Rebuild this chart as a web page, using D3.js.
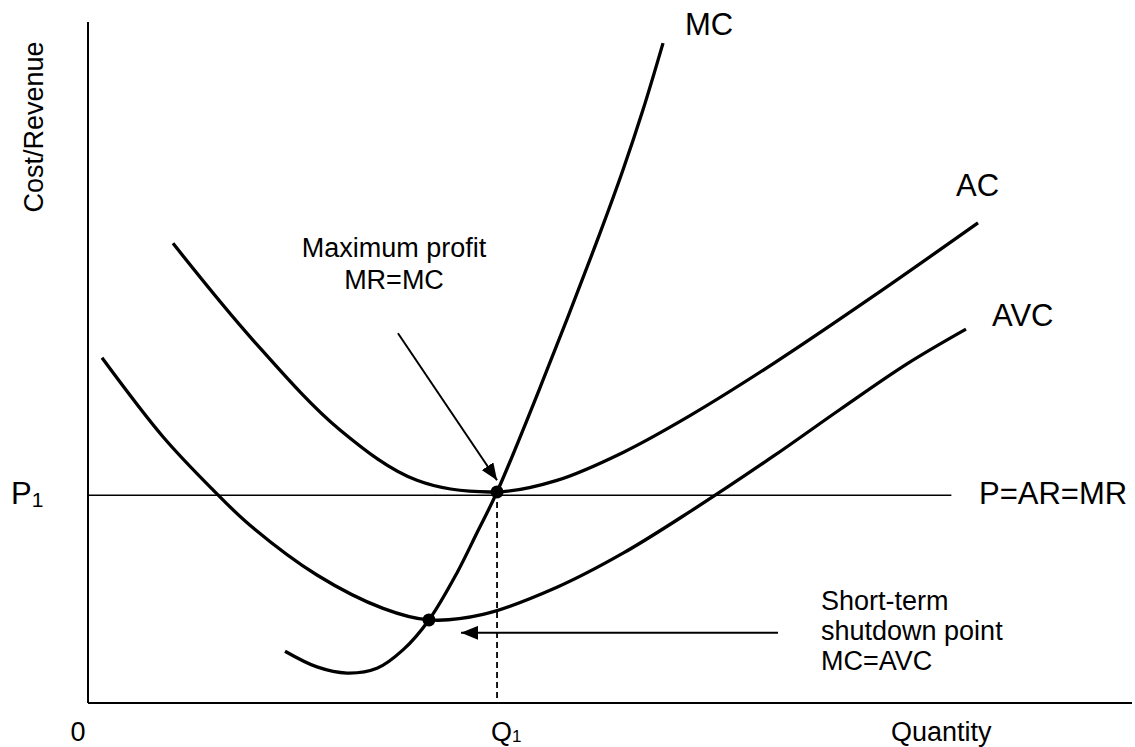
<!DOCTYPE html>
<html><head><meta charset="utf-8">
<script src="https://cdn.jsdelivr.net/npm/d3@7"></script>
<style>
html,body{margin:0;padding:0;background:#fff;}
svg{display:block;}
text{font-family:"Liberation Sans",Arial,sans-serif;fill:#000;}
</style>
</head><body>
<svg id="chart" width="1135" height="747"></svg>
<script>
// ---- data (quantity 0..100, cost 0..100) ----
const acCurve  = [[8.14,67.5],[15.80,53.3],[24.14,40.1],[31.51,32.7],[39.18,31.0],[44.92,32.7],[51.25,36.8],[57.66,42.2],[65.61,49.8],[75.19,59.7],[85.25,70.5]];
const avcCurve = [[1.34,50.7],[7.18,39.1],[11.97,31.3],[15.52,26.1],[21.93,18.8],[28.26,13.9],[32.66,12.2],[37.84,13.0],[44.92,17.0],[51.25,22.0],[57.66,28.1],[65.61,36.2],[72.03,43.1],[78.45,49.8],[84.10,54.9]];
const mcCurve  = [[18.87,7.6],[21.93,5.3],[24.81,4.4],[27.68,5.1],[30.17,7.8],[32.66,12.2],[35.34,19.1],[37.26,25.0],[39.18,31.0],[43.58,47.4],[49.04,69.0],[51.25,78.3],[53.16,87.1],[55.08,96.9]];
const priceP1 = 30.5;
const quantityQ1 = 39.18;
const keyPoints = [[39.18,31.0],[32.66,12.2]];
const profitArrow = [[29.69,54.3],[39.18,32.7]];
const shutdownArrow = [[66.09,10.3],[35.73,10.3]];
const curveLabels = ["MC","AC","AVC"];
const xTickLabels = ["0","Q"];
const yTickLabels = ["P"];
const priceLineLabel = "P=AR=MR";
const xAxisTitle = "Quantity";
const yAxisTitle = "Cost/Revenue";
const profitText = ["Maximum profit","MR=MC"];
const shutdownText = ["Short-term","shutdown point","MC=AVC"];

const svg = d3.select("#chart");
const x = d3.scaleLinear().domain([0,100]).range([88,1132]);
const y = d3.scaleLinear().domain([0,100]).range([703,22]);

const defs = svg.append("defs");
defs.append("marker").attr("id","ah").attr("markerUnits","userSpaceOnUse")
  .attr("markerWidth",17).attr("markerHeight",14).attr("refX",17).attr("refY",7)
  .attr("orient","auto").append("path").attr("d","M0,0 L17,7 L0,14 Z").attr("fill","#000");

// axes
svg.append("line").attr("x1",x(0)).attr("y1",y(0)).attr("x2",x(0)).attr("y2",y(100))
  .attr("stroke","#000").attr("stroke-width",2);
svg.append("line").attr("x1",x(0)).attr("y1",y(0)).attr("x2",x(100)).attr("y2",y(0))
  .attr("stroke","#000").attr("stroke-width",2);

// price line
svg.append("line").attr("x1",x(0)).attr("y1",y(priceP1)).attr("x2",x(82.7)).attr("y2",y(priceP1))
  .attr("stroke","#000").attr("stroke-width",1.6);

// dashed Q1
svg.append("line").attr("x1",x(quantityQ1)).attr("y1",y(keyPoints[0][1])).attr("x2",x(quantityQ1)).attr("y2",y(0))
  .attr("stroke","#000").attr("stroke-width",1.8).attr("stroke-dasharray","6,4");

const line = d3.line().x(d=>x(d[0])).y(d=>y(d[1])).curve(d3.curveCatmullRom.alpha(0.5));
[acCurve, avcCurve, mcCurve].forEach(c=>{
  svg.append("path").attr("d",line(c)).attr("fill","none").attr("stroke","#000")
    .attr("stroke-width",3.3).attr("stroke-linecap","butt");
});

// arrows
[profitArrow, shutdownArrow].forEach(a=>{
  svg.append("line").attr("x1",x(a[0][0])).attr("y1",y(a[0][1])).attr("x2",x(a[1][0])).attr("y2",y(a[1][1]))
    .attr("stroke","#000").attr("stroke-width",2).attr("marker-end","url(#ah)");
});

// dots
svg.selectAll("circle.kp").data(keyPoints).enter().append("circle")
  .attr("cx",d=>x(d[0])).attr("cy",d=>y(d[1])).attr("r",6.5).attr("fill","#000");

// labels
const big = 31, small = 27;
const mcEnd = mcCurve[mcCurve.length-1], acEnd = acCurve[acCurve.length-1], avcEnd = avcCurve[avcCurve.length-1];
svg.append("text").attr("x",x(mcEnd[0])+22).attr("y",35).attr("font-size",big).text(curveLabels[0]);
svg.append("text").attr("x",x(acEnd[0])-22).attr("y",196).attr("font-size",big).text(curveLabels[1]);
svg.append("text").attr("x",x(avcEnd[0])+26).attr("y",326).attr("font-size",big).text(curveLabels[2]);
svg.append("text").attr("x",979).attr("y",y(priceP1)+9).attr("font-size",big).text(priceLineLabel);

// y tick P1
const p1 = svg.append("text").attr("x",11).attr("y",y(priceP1)+9).attr("font-size",big);
p1.append("tspan").text(yTickLabels[0]);
p1.append("tspan").attr("font-size",21).attr("dy",3).text("1");

// x ticks
svg.append("text").attr("x",x(0)-10).attr("y",741).attr("font-size",small).attr("text-anchor","middle").text(xTickLabels[0]);
const q1 = svg.append("text").attr("x",x(quantityQ1)-6).attr("y",741).attr("font-size",small);
q1.append("tspan").text(xTickLabels[1]);
q1.append("tspan").attr("font-size",17).attr("dy",1).text("1");

svg.append("text").attr("x",891).attr("y",741).attr("font-size",small).text(xAxisTitle);
svg.append("text").attr("transform","translate(43,127) rotate(-90)").attr("text-anchor","middle")
  .attr("font-size",small).text(yAxisTitle);

svg.append("text").attr("x",394).attr("y",257).attr("font-size",small).attr("text-anchor","middle").text(profitText[0]);
svg.append("text").attr("x",394).attr("y",289).attr("font-size",small).attr("text-anchor","middle").text(profitText[1]);
shutdownText.forEach((t,i)=>{
  svg.append("text").attr("x",821).attr("y",610+i*30).attr("font-size",small).text(t);
});
</script>
</body></html>
